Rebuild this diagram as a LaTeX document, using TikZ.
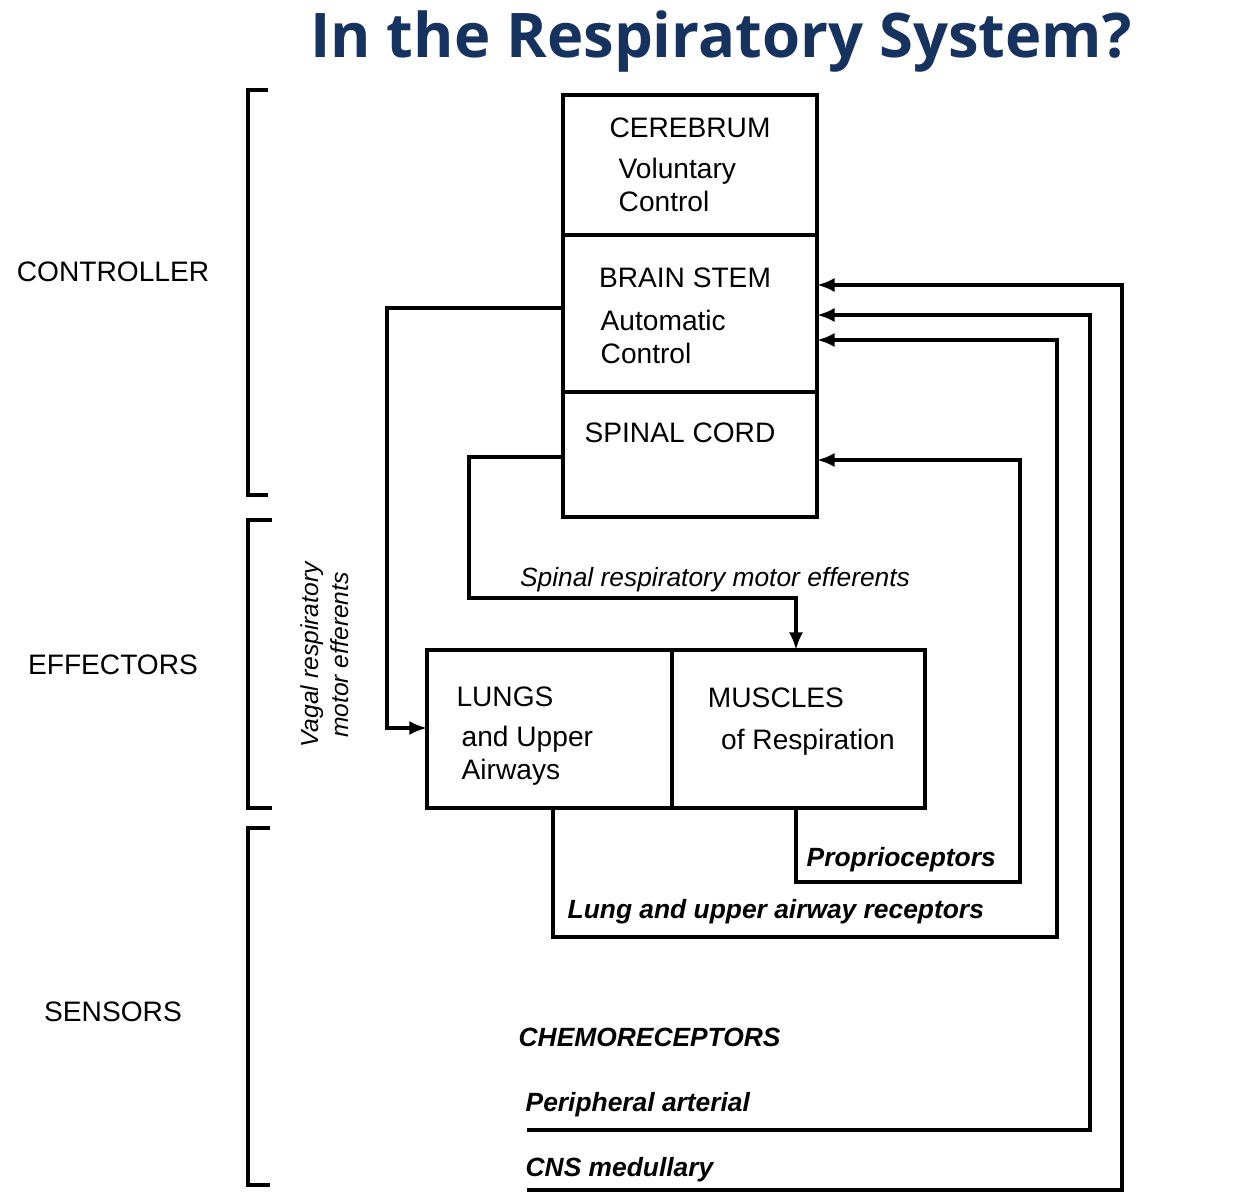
\documentclass[tikz,border=0pt]{standalone}
\usepackage{fontspec}
\setmainfont{Liberation Sans}
\newfontfamily\titlefont{Open Sans}
\usetikzlibrary{positioning, arrows.meta}
\definecolor{titleblue}{RGB}{22,50,95}
\begin{document}
\begin{tikzpicture}[x=0.01cm, y=-0.01cm,
        every node/.style={font=\fontsize{8}{9.5}\selectfont, inner sep=0pt},
        box/.style={draw=black, line width=1pt},
        wire/.style={draw=black, line width=0.9pt},
        sig/.style={wire, -{Latex[length=5pt,width=4pt]}},
        sense/.style={font=\fontsize{7.5}{9}\selectfont\bfseries\itshape, anchor=west},
        bracket/.style={draw=black, line width=0.9pt},]

        \useasboundingbox (0,0) rectangle (1244,1200);
        \node[font=\titlefont\fontsize{17.5}{20}\selectfont\bfseries, text=titleblue] (title) at (721,42) {In the Respiratory System?};

        % brackets on the left
        \draw[bracket] (268,90) -- (248,90) -- (248,495) -- (268,495);
        \draw[bracket] (272,520) -- (248,520) -- (248,808) -- (272,808);
        \draw[bracket] (270,828) -- (248,828) -- (248,1185) -- (270,1185);
        \node (ctrl) at (113,272) {CONTROLLER};
        \node (eff) at (113,665) {EFFECTORS};
        \node (sens) at (113,1012) {SENSORS};

        % controller column
        \draw[box] (563,95) rectangle (817,235);
        \draw[box] (563,235) rectangle (817,392);
        \draw[box] (563,392) rectangle (817,517);
        \coordinate (brain) at (563,308);
        \coordinate (cord) at (563,457);
        \node (cer) at (690,128) {CEREBRUM};
        \node[align=left, anchor=west] (vol) at (618,185) {Voluntary\\Control};
        \node (bs) at (685,278) {BRAIN STEM};
        \node[align=left, anchor=west] (aut) at (600,337) {Automatic\\Control};
        \node (sc) at (680,433) {SPINAL CORD};

        % effectors
        \draw[box] (427,650) rectangle (672,808);
        \draw[box] (672,650) rectangle (925,808);
        \node (lungs) at (505,697) {LUNGS};
        \node[align=left, anchor=west] (upper) at (461,756) {and Upper\\Airways};
        \node (musc) at (776,698) {MUSCLES};
        \node (resp) at (808,742) {of Respiration};

        % efferents
        \draw[sig] (brain) -- (387,308) -- (387,728) -- (427,728);
        \node[rotate=90, align=center, font=\fontsize{7}{8.5}\selectfont\itshape] (vagal) at (325,655) {Vagal respiratory\\motor efferents};
        \draw[sig] (cord) -- (469,457) -- (469,598) -- (796,598) -- (796,650);
        \node[font=\fontsize{7.5}{9}\selectfont\itshape] (spin) at (715,580) {Spinal respiratory motor efferents};

        % sensors
        \draw[sig] (796,808) -- (796,882) -- (1020,882) -- (1020,460) -- (817,460);
        \node[sense] (prop) at (806,860) {Proprioceptors};
        \draw[sig] (553,808) -- (553,937) -- (1057,937) -- (1057,340) -- (817,340);
        \node[sense] (lur) at (567,912) {Lung and upper airway receptors};
        \node[sense] (chem) at (518,1037) {CHEMORECEPTORS};
        \draw[sig] (527,1130) -- (1090,1130) -- (1090,315) -- (817,315);
        \node[sense] (per) at (525,1105) {Peripheral arterial};
        \draw[sig] (527,1190) -- (1122,1190) -- (1122,285) -- (817,285);
        \node[sense] (cns) at (525,1170) {CNS medullary};

    \end{tikzpicture}
\end{document}
